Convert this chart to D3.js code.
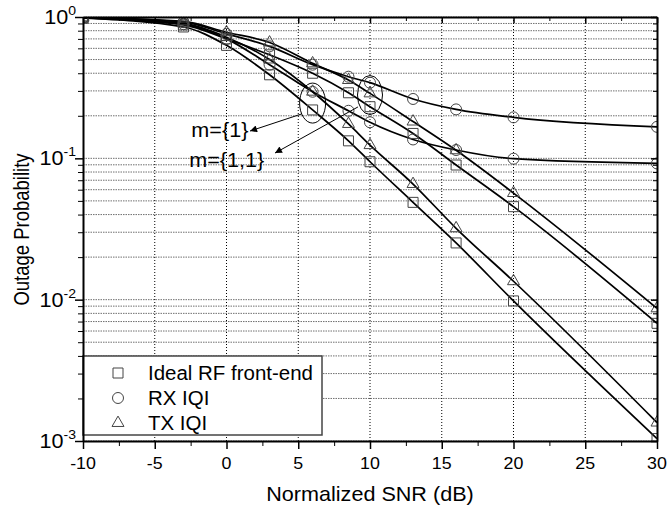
<!DOCTYPE html>
<html>
<head>
<meta charset="utf-8">
<script src="https://cdn.jsdelivr.net/npm/d3@7"></script>
<style>
  body { margin: 0; background: #fff; }
  svg { font-family: "Liberation Sans", Arial, sans-serif; }
</style>
</head>
<body>
<div id="chart"></div>
<script>
// SNR points (dB)
var snr = [-10, -3, 0, 3, 6, 8.5, 10, 13, 16, 20, 30];

// steep group (ellipse at 6 dB, "m={1}")
var idealA = [0.98, 0.85, 0.63, 0.39, 0.22, 0.133, 0.0946, 0.0488, 0.0252, 0.0098, 0.00104];
var txA    = [0.99, 0.90, 0.72, 0.50, 0.296, 0.175, 0.124, 0.0658, 0.032, 0.0135, 0.00135];
var rxA    = [0.99, 0.89, 0.70, 0.46, 0.296, 0.217, 0.180, 0.136, 0.1145, 0.0994, 0.092];
// shallow group (ellipse at 10 dB, "m={1,1}")
var idealB = [0.99, 0.88, 0.70, 0.54, 0.40, 0.291, 0.232, 0.150, 0.0897, 0.0455, 0.0068];
var txB    = [0.99, 0.93, 0.78, 0.66, 0.47, 0.358, 0.288, 0.182, 0.114, 0.0568, 0.00868];
var rxB    = [0.99, 0.92, 0.76, 0.62, 0.46, 0.378, 0.343, 0.263, 0.222, 0.195, 0.167];

var xTicks = [-10, -5, 0, 5, 10, 15, 20, 25, 30];
var yMajor = [1, 0.1, 0.01, 0.001];
var yExp = ["0", "-1", "-2", "-3"];
var legendNames = ["Ideal RF front-end", "RX IQI", "TX IQI"];

var width = 667, height = 508,
    margin = {top: 17, right: 10, bottom: 67, left: 83};

var x = d3.scaleLinear().domain([-10, 30]).range([margin.left, width - margin.right]);
var y = d3.scaleLog().domain([0.001, 1]).range([height - margin.bottom, margin.top]);

var svg = d3.select("#chart").append("svg")
  .attr("width", width)
  .attr("height", height);

var SX = 1.08;
function label(parent, px, py, str, size, anchor, sx) {
  return parent.append("text")
    .attr("transform", `translate(${px},${py}) scale(${sx || SX},1)`)
    .attr("text-anchor", anchor)
    .style("font-size", size + "px")
    .text(str);
}

// minor ticks
var yMinor = [];
[0.001, 0.01, 0.1].forEach(d => { for (var k = 2; k <= 9; k++) yMinor.push(d * k); });
var xMinor = d3.range(-7.5, 30, 5);

// grid
svg.append("g").selectAll("line")
  .data(yMinor.concat(yMajor))
  .enter().append("line")
  .attr("x1", x(-10)).attr("x2", x(30))
  .attr("y1", d => y(d)).attr("y2", d => y(d))
  .attr("stroke", "#707070")
  .attr("stroke-width", 1)
  .attr("stroke-dasharray", "1.5,1");

svg.append("g").selectAll("line")
  .data(xTicks.slice(1, -1))
  .enter().append("line")
  .attr("x1", d => x(d)).attr("x2", d => x(d))
  .attr("y1", y(1)).attr("y2", y(0.001))
  .attr("stroke", "#000")
  .attr("stroke-width", 1)
  .attr("stroke-dasharray", "1,2");

svg.append("clipPath").attr("id", "plotclip")
  .append("rect")
  .attr("x", x(-10)).attr("y", y(1))
  .attr("width", x(30) - x(-10)).attr("height", y(0.001) - y(1));

var series = [
  {vals: idealA, sym: d3.symbolSquare},
  {vals: txA, sym: d3.symbolTriangle},
  {vals: rxA, sym: d3.symbolCircle},
  {vals: idealB, sym: d3.symbolSquare},
  {vals: txB, sym: d3.symbolTriangle},
  {vals: rxB, sym: d3.symbolCircle}
];
var symSize = function(s) {
  return s === d3.symbolSquare ? 100 : (s === d3.symbolCircle ? 95 : 62);
};

var line = d3.line()
  .x((d, i) => x(snr[i]))
  .y(d => y(d))
  .curve(d3.curveMonotoneX);

var plot = svg.append("g").attr("clip-path", "url(#plotclip)");

series.forEach(s => {
  plot.append("path")
    .datum(s.vals)
    .attr("d", line)
    .attr("fill", "none")
    .attr("stroke", "#000")
    .attr("stroke-width", 1.7);
});

series.forEach(s => {
  plot.selectAll(null)
    .data(s.vals)
    .enter().append("path")
    .attr("transform", (d, i) => `translate(${x(snr[i])},${y(d)})`)
    .attr("d", d3.symbol().type(s.sym).size(symSize(s.sym)))
    .attr("fill", "none")
    .attr("stroke", "#444")
    .attr("stroke-width", 1);
});

// annotations
var ann = svg.append("g");
ann.append("ellipse")
  .attr("cx", x(6)).attr("cy", y(0.246))
  .attr("rx", 13).attr("ry", 20)
  .attr("fill", "none").attr("stroke", "#000").attr("stroke-width", 1);
ann.append("ellipse")
  .attr("cx", x(10)).attr("cy", y(0.2805))
  .attr("rx", 12.5).attr("ry", 19.5)
  .attr("fill", "none").attr("stroke", "#000").attr("stroke-width", 1);

svg.append("defs").append("marker")
  .attr("id", "arrow")
  .attr("viewBox", "0 0 10 10")
  .attr("refX", 10).attr("refY", 5)
  .attr("markerWidth", 11).attr("markerHeight", 7)
  .attr("markerUnits", "userSpaceOnUse")
  .attr("orient", "auto")
  .append("path").attr("d", "M0,0L10,5L0,10z").attr("fill", "#000");

var arrows = [
  {x1: 5.23, y1: 0.206, x2: 1.64, y2: 0.156},
  {x1: 9.16, y1: 0.231, x2: 3.38, y2: 0.109}
];
ann.selectAll("line.arrow")
  .data(arrows)
  .enter().append("line")
  .attr("class", "arrow")
  .attr("x1", d => x(d.x1)).attr("y1", d => y(d.y1))
  .attr("x2", d => x(d.x2)).attr("y2", d => y(d.y2))
  .attr("stroke", "#000").attr("stroke-width", 1)
  .attr("marker-end", "url(#arrow)");

label(ann, x(-2.45), y(0.1417), "m={1}", 20, "start");
label(ann, x(-2.6), y(0.0873), "m={1,1}", 20, "start");

// legend
var lg = svg.append("g");
lg.append("rect")
  .attr("x", x(-10)).attr("y", 356)
  .attr("width", 239).attr("height", 79)
  .attr("fill", "#fff")
  .attr("stroke", "#444").attr("stroke-width", 1.5);
[d3.symbolSquare, d3.symbolCircle, d3.symbolTriangle].forEach((s, i) => {
  lg.append("path")
    .attr("transform", `translate(118,${373 + i * 25})`)
    .attr("d", d3.symbol().type(s).size(symSize(s)))
    .attr("fill", "none").attr("stroke", "#444").attr("stroke-width", 1);
  label(lg, 148, 380 + i * 25, legendNames[i], 19.5, "start", 1.05);
});

// axes
function styleAxis(g) {
  g.select(".domain").attr("stroke-width", 2);
  g.selectAll(".tick line").attr("stroke-width", 1.5);
}
svg.append("g").attr("transform", `translate(0,${y(0.001)})`)
  .call(d3.axisBottom(x).tickValues(xTicks).tickSize(8).tickSizeOuter(0).tickFormat(""))
  .call(styleAxis);
svg.append("g").attr("transform", `translate(0,${y(0.001)})`)
  .call(d3.axisBottom(x).tickValues(xMinor).tickSize(5).tickSizeOuter(0).tickFormat(""))
  .call(g => g.select(".domain").remove());
svg.append("g").attr("transform", `translate(0,${y(1)})`)
  .call(d3.axisBottom(x).tickValues(xTicks).tickSize(6).tickSizeOuter(0).tickFormat(""))
  .call(styleAxis);
svg.append("g").attr("transform", `translate(0,${y(1)})`)
  .call(d3.axisBottom(x).tickValues(xMinor).tickSize(4).tickSizeOuter(0).tickFormat(""))
  .call(g => g.select(".domain").remove());

svg.append("g").attr("transform", `translate(${x(-10)},0)`)
  .call(d3.axisLeft(y).tickValues(yMajor).tickSize(8).tickSizeOuter(0).tickFormat(""))
  .call(styleAxis);
svg.append("g").attr("transform", `translate(${x(-10)},0)`)
  .call(d3.axisLeft(y).tickValues(yMinor).tickSize(5).tickSizeOuter(0).tickFormat(""))
  .call(g => g.select(".domain").remove());
svg.append("g").attr("transform", `translate(${x(30)},0)`)
  .call(d3.axisLeft(y).tickValues(yMajor).tickSize(6).tickSizeOuter(0).tickFormat(""))
  .call(styleAxis);
svg.append("g").attr("transform", `translate(${x(30)},0)`)
  .call(d3.axisLeft(y).tickValues(yMinor).tickSize(4).tickSizeOuter(0).tickFormat(""))
  .call(g => g.select(".domain").remove());

// tick labels
xTicks.forEach(t => label(svg, x(t), 469, String(t), 16.5, "middle"));
yMajor.forEach((t, i) => {
  var txt = label(svg, 76, y(t) + 7, "", 20, "end");
  txt.append("tspan").text("10");
  txt.append("tspan").attr("dy", -9).style("font-size", "13px").text(yExp[i]);
});

// axis titles
label(svg, 370, 501, "Normalized SNR (dB)", 20, "middle");
svg.append("text")
  .attr("transform", `translate(29,229.5) scale(1.2,1) rotate(-90)`)
  .attr("text-anchor", "middle")
  .style("font-size", "18.5px")
  .text("Outage Probability");
</script>
</body>
</html>
